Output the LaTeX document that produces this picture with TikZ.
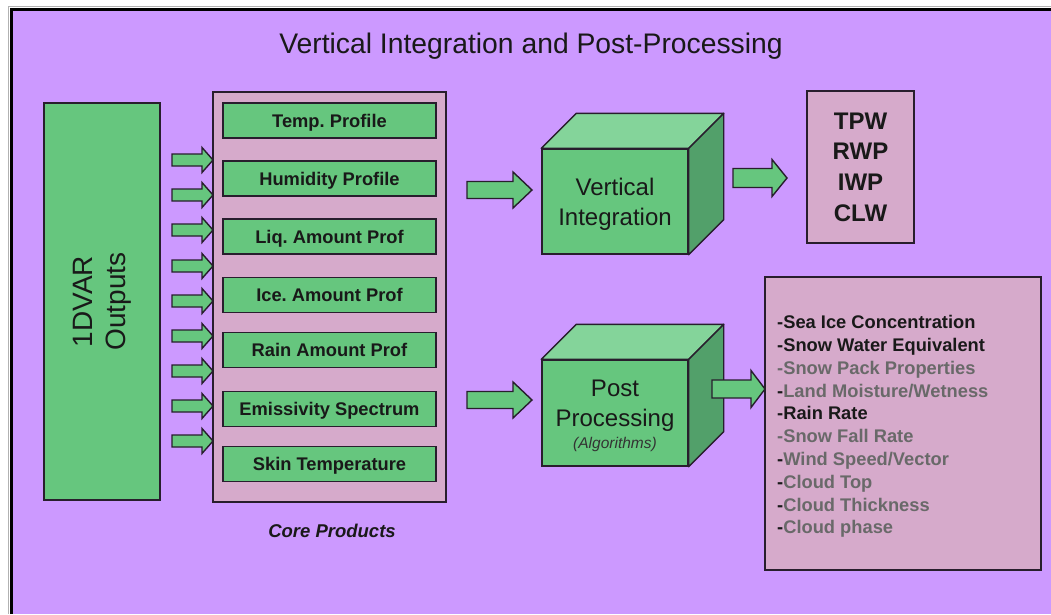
\documentclass[tikz,border=0pt]{standalone}
\usepackage{fontspec}
\usetikzlibrary{calc}
\setmainfont{Liberation Sans}
\frenchspacing
\definecolor{bgpurple}{RGB}{204,153,255}
\definecolor{boxgreen}{RGB}{102,198,126}
\definecolor{topgreen}{RGB}{132,212,154}
\definecolor{sidegreen}{RGB}{82,160,106}
\definecolor{boxpink}{RGB}{214,170,203}
\definecolor{edgedark}{RGB}{40,30,45}
\definecolor{txtgray}{RGB}{105,105,105}
\newcommand\blkarrow[6]{% x1, x2, y, shaft half, head half, head length
  \draw[blockarrow] ({#1},{#3-#4}) -- ({#2-#6},{#3-#4}) -- ({#2-#6},{#3-#5}) -- ({#2},{#3})
    -- ({#2-#6},{#3+#5}) -- ({#2-#6},{#3+#4}) -- ({#1},{#3+#4}) -- cycle;}
\tikzset{
  greenbox/.style={draw=edgedark, line width=1.6pt, fill=boxgreen, inner sep=0pt},
  pinkbox/.style={draw=edgedark, line width=1.6pt, fill=boxpink, inner sep=0pt},
  blockarrow/.style={draw=edgedark, line width=1.4pt, fill=boxgreen, line join=miter},
  prodbox/.style={greenbox, minimum width=213pt, minimum height=35pt, text height=13pt, text depth=0pt,
    font=\fontsize{18.3}{20}\selectfont\bfseries, text=black!90},
  cubetop/.style={draw=edgedark, line width=1.4pt, fill=topgreen, line join=round},
  cubeside/.style={draw=edgedark, line width=1.4pt, fill=sidegreen, line join=round},
  listitem/.style={anchor=base west, inner sep=0pt, font=\fontsize{18.3}{20}\selectfont\bfseries},
}
\begin{document}
\begin{tikzpicture}[x=1pt,y=-1pt]
\useasboundingbox (0,0) rectangle (1051,614);
\fill[white] (0,0) rectangle (1051,614);
% outer frame
\fill[bgpurple] (11,9) rectangle (1051,614);
\draw[gray!60, line width=1pt] (8,614) -- (8,6) -- (1051,6);
\draw[black, line width=3pt] (11,614) -- (11,9) -- (1051,9);
% title
\node[font=\fontsize{28.3}{32}\selectfont, text=black!90] (title) at (531,46.5) {Vertical Integration and Post-Processing};
% 1DVAR outputs
\node[greenbox, minimum width=116pt, minimum height=397pt] (dvar) at (102,301.5) {};
\node[rotate=90, align=center, font=\fontsize{28}{33}\selectfont, text=black!90] (dvartxt) at (dvar.center) {1DVAR\\Outputs};
% core products container
\node[pinkbox, minimum width=233pt, minimum height=410pt] (core) at (329.5,297) {};
\node[prodbox] (p1) at (329.5,120.5) {Temp. Profile};
\node[prodbox] (p2) at (329.5,178.5) {Humidity Profile};
\node[prodbox] (p3) at (329.5,236.5) {Liq. Amount Prof};
\node[prodbox] (p4) at (329.5,295) {Ice. Amount Prof};
\node[prodbox] (p5) at (329.5,350) {Rain Amount Prof};
\node[prodbox] (p6) at (329.5,409) {Emissivity Spectrum};
\node[prodbox] (p7) at (329.5,464) {Skin Temperature};
\node[font=\fontsize{18.5}{20}\selectfont\bfseries\itshape, text=black!90] (corelbl) at (332,531) {Core Products};
% small arrows from 1DVAR to core products
\foreach \yy in {160,195,230,266,301,336,371,406,441}{
  \blkarrow{172}{213}{\yy}{6}{12.5}{11}
}
% Vertical Integration cube
\node[greenbox, line width=1.4pt, minimum width=146pt, minimum height=105pt] (vi) at (615,201.5) {};
\draw[cubetop] (vi.north west) -- ++(35,-35) -- ($(vi.north east)+(35,-35)$) -- (vi.north east) -- cycle;
\draw[cubeside] (vi.north east) -- ++(35,-35) -- ($(vi.south east)+(35,-35)$) -- (vi.south east) -- cycle;
\node[align=center, font=\fontsize{24}{30}\selectfont, text=black!90] (vitxt) at (615,204.5) {Vertical\\Integration};
% Post Processing cube
\node[greenbox, line width=1.4pt, minimum width=146pt, minimum height=106pt] (pp) at (615,413) {};
\draw[cubetop] (pp.north west) -- ++(35,-35) -- ($(pp.north east)+(35,-35)$) -- (pp.north east) -- cycle;
\draw[cubeside] (pp.north east) -- ++(35,-35) -- ($(pp.south east)+(35,-35)$) -- (pp.south east) -- cycle;
\node[align=center, font=\fontsize{24}{30}\selectfont, text=black!90] (pptxt) at (615,406) {Post\\Processing};
\node[font=\fontsize{15.5}{18}\selectfont\itshape, text=black!80] (ppalg) at (615,444) {(Algorithms)};
% TPW box
\node[pinkbox, minimum width=107pt, minimum height=152pt, align=center,
  font=\fontsize{24}{30.7}\selectfont\bfseries, text=black!90] (tpw) at (860.5,167) {TPW\\RWP\\IWP\\CLW};
% products list box
\node[pinkbox, minimum width=276pt, minimum height=293pt] (list) at (903,423.5) {};
\node[listitem, text=black!90] (l1) at (777,328.6) {-Sea Ice Concentration};
\node[listitem, text=black!90] (l2) at (777,351.4) {-Snow Water Equivalent};
\node[listitem, text=txtgray] (l3) at (777,374.2) {-Snow Pack Properties};
\node[listitem, text=txtgray] (l4) at (777,397.0) {{\color{black!90}-}Land Moisture/Wetness};
\node[listitem, text=black!90] (l5) at (777,419.8) {-Rain Rate};
\node[listitem, text=txtgray] (l6) at (777,442.6) {-Snow Fall Rate};
\node[listitem, text=txtgray] (l7) at (777,465.4) {{\color{black!90}-}Wind Speed/Vector};
\node[listitem, text=txtgray] (l8) at (777,488.2) {{\color{black!90}-}Cloud Top};
\node[listitem, text=txtgray] (l9) at (777,511.0) {{\color{black!90}-}Cloud Thickness};
\node[listitem, text=txtgray] (l10) at (777,533.8) {{\color{black!90}-}Cloud phase};
% big block arrows
\blkarrow{467}{532}{190}{8.5}{18}{19}
\blkarrow{733}{787}{178}{9.5}{18.5}{15}
\blkarrow{467}{532}{400}{8.5}{18}{19}
\blkarrow{712}{765}{389}{9}{18.5}{14}
\end{tikzpicture}
\end{document}
